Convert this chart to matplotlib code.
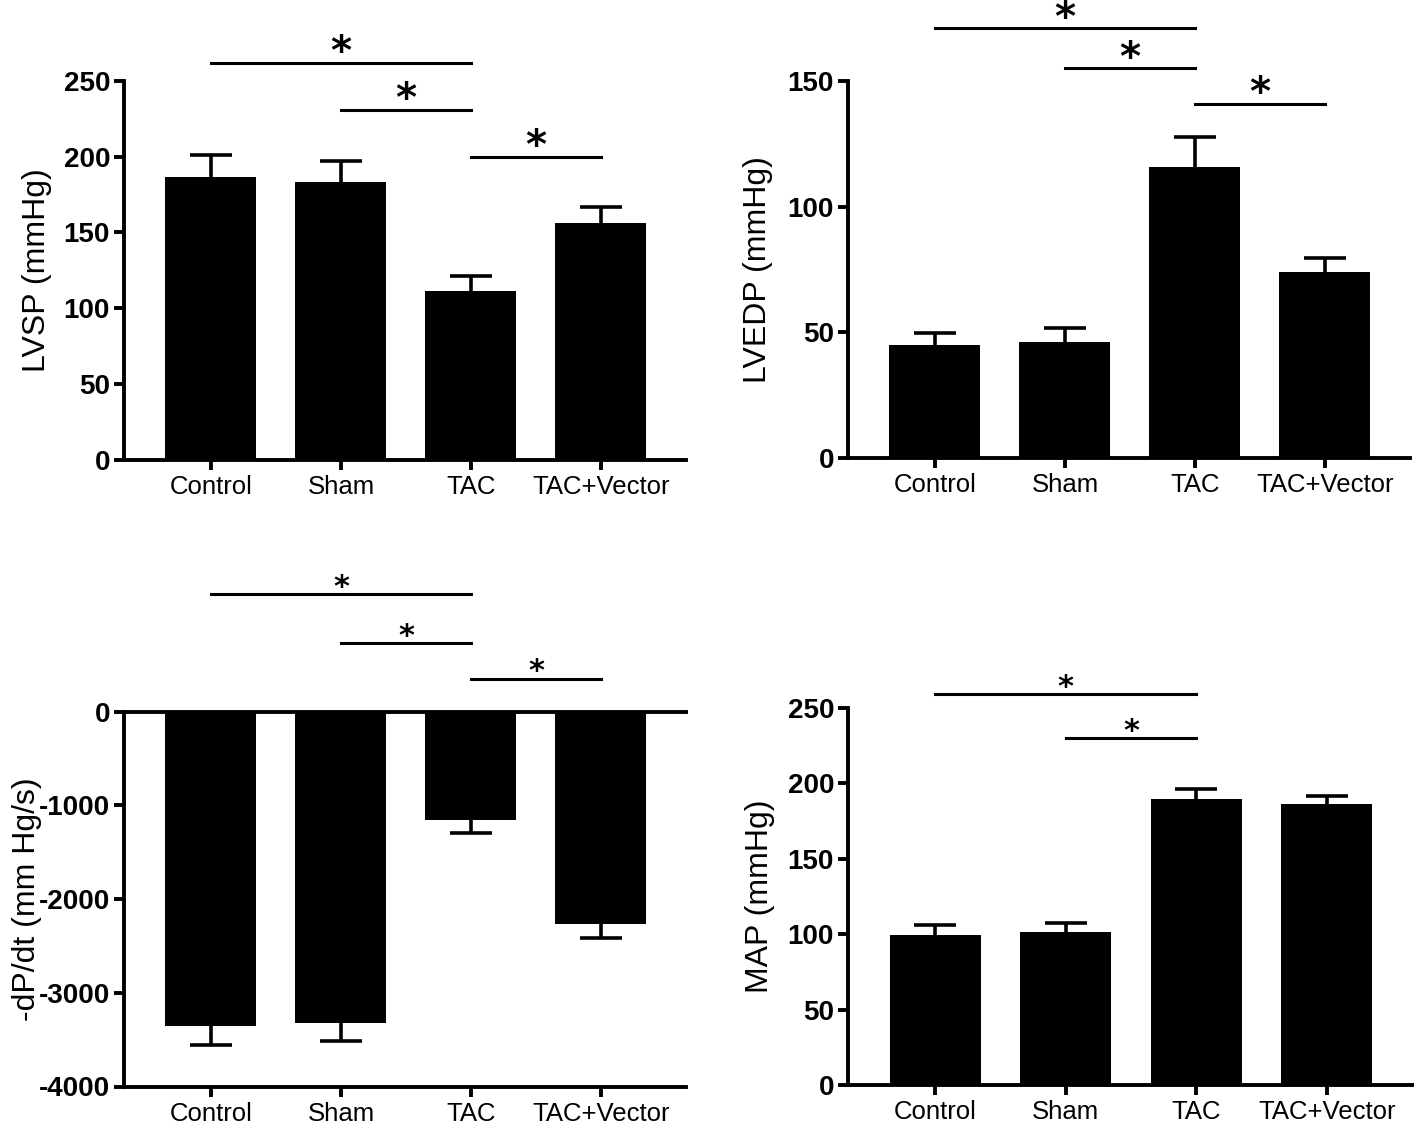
import numpy as np
import matplotlib
matplotlib.use("Agg")
from matplotlib import pyplot as plt

plt.rcParams['font.family'] = ['Liberation Sans', 'DejaVu Sans']

# groups
groups = ["Control", "Sham", "TAC", "TAC+Vector"]

# LVSP (mmHg)
lvsp = [186.6, 183.5, 111.5, 156.0]
lvsp_err = [14.5, 13.7, 10.0, 11.0]

# LVEDP (mmHg)
lvedp = [45.0, 46.2, 115.9, 74.1]
lvedp_err = [4.7, 5.5, 11.7, 5.4]

# -dP/dt (mm Hg/s)
dpdt = [-3354, -3326, -1161, -2266]
dpdt_err = [200, 186, 132, 149]

# MAP (mmHg)
map_ = [99.6, 101.4, 189.5, 186.2]
map_err = [6.2, 6.0, 6.9, 5.7]

# significance brackets: (group a, group b, y level)
sig_lvsp = [(0, 2, 262), (1, 2, 231), (2, 3, 200)]
sig_lvedp = [(0, 2, 171), (1, 2, 155), (2, 3, 141)]
sig_dpdt = [(0, 2, 1253), (1, 2, 730), (2, 3, 349)]
sig_map = [(0, 2, 259), (1, 2, 230)]

W, H = 1418, 1131
fig = plt.figure(figsize=(W / 100, H / 100), dpi=100)

LW = 2.8
x = np.arange(len(groups))


def panel(rect, vals, errs, ylim, yticks, ylabel, sigs, star_size, labx, neg=False):
    ax = fig.add_axes(rect)
    ax.errorbar(x, vals, yerr=errs, fmt="none", ecolor="black",
                elinewidth=2.6, capsize=15, capthick=2.6, zorder=1)
    ax.bar(x, vals, width=0.7, color="black", zorder=2)
    ax.set_xlim(-0.669, 3.654)
    ax.set_ylim(*ylim)
    ax.set_yticks(yticks)
    ax.set_yticklabels([str(t) for t in yticks], fontsize=20, fontweight="bold")
    ax.set_xticks(x)
    ax.set_xticklabels(groups, fontsize=18.5)
    ax.spines["right"].set_visible(False)
    ax.spines["top"].set_visible(neg)
    for s in ["left", "bottom", "top"]:
        ax.spines[s].set_linewidth(LW)
    ax.tick_params(axis="both", width=LW, length=7)
    ax.tick_params(axis="y", pad=3)
    ax.tick_params(axis="x", pad=4)
    ax.set_ylabel(ylabel, fontsize=23)
    ax.yaxis.set_label_coords(labx, 0.5)
    for a, b, y in sigs:
        ax.plot([a, b], [y, y], color="black", lw=2.2, clip_on=False)
        ax.annotate("*", xy=((a + b) / 2, y), xytext=(0, -1),
                    textcoords="offset points", ha="center", va="baseline",
                    fontsize=star_size, fontweight="bold",
                    family="DejaVu Sans", annotation_clip=False)
    return ax


panel([124 / W, 1 - 459.5 / H, 562 / W, 378.5 / H], lvsp, lvsp_err,
      (0, 250), [0, 50, 100, 150, 200, 250], "LVSP (mmHg)", sig_lvsp, 29, -0.128)
panel([848 / W, 1 - 458 / H, 562 / W, 377 / H], lvedp, lvedp_err,
      (0, 150), [0, 50, 100, 150], "LVEDP (mmHg)", sig_lvedp, 29, -0.133)
panel([124 / W, 1 - 1086.5 / H, 562 / W, 374.8 / H], dpdt, dpdt_err,
      (-4000, 0), [-4000, -3000, -2000, -1000, 0], "-dP/dt (mm Hg/s)",
      sig_dpdt, 22, -0.146, neg=True)
panel([848 / W, 1 - 1085 / H, 564 / W, 377 / H], map_, map_err,
      (0, 250), [0, 50, 100, 150, 200, 250], "MAP (mmHg)", sig_map, 22, -0.13)

fig.savefig("out.png", dpi=100)
